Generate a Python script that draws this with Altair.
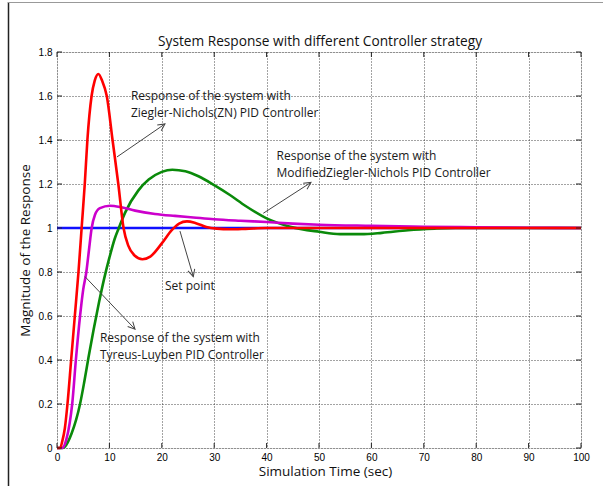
import math
import altair as alt
import pandas as pd

# ---------------- data ----------------
x_ticks = [0, 10, 20, 30, 40, 50, 60, 70, 80, 90, 100]
y_ticks = [0, 0.2, 0.4, 0.6, 0.8, 1.0, 1.2, 1.4, 1.6, 1.8]

t_set = [0, 100]
v_set = [1.0, 1.0]

t_zn = [0, 0.6, 1.0, 1.5, 2.0, 2.7, 3.4, 4.1, 4.7, 5.3, 5.8, 6.6, 7.2, 7.9, 8.6, 9.5,
        10.6, 11.7, 12.7, 13.6, 14.8, 16.3, 17.8, 20.0, 21.9, 23.3, 24.8, 26.5, 28.5,
        30.5, 33, 36, 40, 50, 100]
v_zn = [0, 0, 0.03, 0.09, 0.2, 0.4, 0.6, 0.8, 1.0, 1.2, 1.4, 1.6, 1.67, 1.70, 1.67, 1.6,
        1.4, 1.2, 1.0, 0.92, 0.875, 0.858, 0.87, 0.93, 0.99, 1.02, 1.03, 1.022, 1.005,
        0.997, 0.994, 0.996, 1.0, 1.0, 1.0]

t_tl = [0, 1.0, 1.8, 2.4, 2.9, 3.6, 4.4, 5.0, 5.6, 6.1, 6.6, 7.25, 8.2, 10.1, 12.3, 14.9,
        18.7, 22.5, 26, 30, 35, 40, 45, 50, 60, 70, 80, 90, 100]
v_tl = [0, 0, 0.04, 0.11, 0.2, 0.4, 0.6, 0.72, 0.8, 0.9, 0.997, 1.06, 1.09, 1.101, 1.094,
        1.079, 1.064, 1.055, 1.048, 1.04, 1.033, 1.027, 1.02, 1.015, 1.01, 1.006, 1.003,
        1.001, 1.0]

t_mzn = [0, 1.0, 1.5, 2.8, 4.4, 5.2, 6.0, 7.0, 8.0, 9.0, 10.0, 11.0, 11.8, 13.0, 15.5, 17.5,
         20, 22, 24.5, 27, 30, 33, 36, 40, 44.5, 50, 54, 58, 62, 67, 72, 76, 85, 100]
v_mzn = [0, 0, 0.006, 0.067, 0.2, 0.3, 0.41, 0.54, 0.66, 0.77, 0.865, 0.95, 1.0, 1.07, 1.17,
         1.22, 1.255, 1.265, 1.258, 1.235, 1.195, 1.15, 1.10, 1.044, 1.006, 0.983, 0.972,
         0.972, 0.978, 0.99, 0.997, 1.0, 1.0, 1.0]

series_names = ["Set point", "Modified ZN", "Tyreus-Luyben", "Ziegler-Nichols"]
series_colors = ["#1010ff", "#0a8a0a", "#cc00cc", "#ff0000"]

title_text = "System Response with different Controller strategy"

# annotation texts (data coordinates)
ann_text = ["Response of the system with", "Ziegler-Nichols(ZN) PID Controller",
            "Response of the system with", "ModifiedZiegler-Nichols PID Controller",
            "Set point",
            "Response of the system with", "Tyreus-Luyben PID Controller"]
ann_t = [14.1, 14.1, 41.9, 41.9, 20.6, 8.2, 8.2]
ann_v = [1.598, 1.522, 1.327, 1.251, 0.736, 0.499, 0.423]

# arrows: tail -> head (data coordinates)
arr_t0 = [11.45, 39.37, 23.47, 5.34]
arr_v0 = [1.323, 1.067, 0.986, 0.779]
arr_t1 = [20.61, 48.47, 26.01, 14.89]
arr_v1 = [1.473, 1.207, 0.779, 0.540]

# ---------------- layout ----------------
W, H = 524, 396
PAD = {"left": 57, "top": 52, "right": 22, "bottom": 38}
FONT = "Open Sans"

xs = alt.Scale(domain=[0, 100], nice=False, zero=False)
ys = alt.Scale(domain=[0, 1.8], nice=False, zero=False)

rows = []
for name, tt, vv in [("Set point", t_set, v_set), ("Modified ZN", t_mzn, v_mzn),
                     ("Tyreus-Luyben", t_tl, v_tl), ("Ziegler-Nichols", t_zn, v_zn)]:
    for i, (a, b) in enumerate(zip(tt, vv)):
        rows.append({"series": name, "t": a, "v": b, "i": i})
df = pd.DataFrame(rows)

xaxis = alt.Axis(values=x_ticks, grid=True, gridDash=[1, 2], gridColor="#333",
                 gridOpacity=0.9, domain=False, ticks=False, labelFlush=False,
                 labelFont="Liberation Sans", labelFontSize=10, labelColor="#000",
                 labelPadding=4, title="Simulation Time (sec)", titleFont=FONT,
                 titleFontSize=13.5, titleFontWeight="normal", titleColor="#111",
                 titlePadding=2, titleX=268)
yaxis = alt.Axis(values=y_ticks, grid=True, gridDash=[1, 2], gridColor="#333",
                 gridOpacity=0.9, domain=False, ticks=False, format="~g",
                 labelFlush=False,
                 labelFont="Liberation Sans", labelFontSize=10, labelColor="#000",
                 labelPadding=5, title="Magnitude of the Response", titleFont=FONT,
                 titleFontSize=13.5, titleFontWeight="normal", titleColor="#111",
                 titlePadding=6)

# axes + grid carrier layer (invisible)
axis_layer = alt.Chart(pd.DataFrame({"t": [0, 100], "v": [0, 1.8]})).mark_point(
    opacity=0, size=1).encode(
    x=alt.X("t:Q", scale=xs, axis=xaxis),
    y=alt.Y("v:Q", scale=ys, axis=yaxis))

def series_layer(name):
    return alt.Chart(df).transform_filter(alt.datum.series == name).mark_line(
        strokeWidth=2.6, interpolate="monotone").encode(
        x=alt.X("t:Q"), y=alt.Y("v:Q"),
        color=alt.Color("series:N",
                        scale=alt.Scale(domain=series_names, range=series_colors),
                        legend=None),
        order="i:Q")

layers = [series_layer(n) for n in series_names]

# inward tick marks on all four sides
tx = pd.DataFrame({"t": x_ticks})
ty = pd.DataFrame({"v": y_ticks})
tick_col = "#222"
tb = alt.Chart(tx).mark_rule(color=tick_col, strokeWidth=1).encode(
    x="t:Q", y=alt.value(H), y2=alt.value(H - 5))
tt_ = alt.Chart(tx).mark_rule(color=tick_col, strokeWidth=1).encode(
    x="t:Q", y=alt.value(0), y2=alt.value(5))
tl = alt.Chart(ty).mark_rule(color=tick_col, strokeWidth=1).encode(
    y="v:Q", x=alt.value(0), x2=alt.value(5))
tr = alt.Chart(ty).mark_rule(color=tick_col, strokeWidth=1).encode(
    y="v:Q", x=alt.value(W), x2=alt.value(W - 5))

# annotations
adf = pd.DataFrame({"text": ann_text, "t": ann_t, "v": ann_v})
texts = alt.Chart(adf).mark_text(align="left", baseline="middle", font=FONT,
                                 fontSize=12, color="#1a1a1a").encode(
    x="t:Q", y="v:Q", text="text:N")

sx, sy = W / 100.0, H / 1.8
ang = []
for a0, b0, a1, b1 in zip(arr_t0, arr_v0, arr_t1, arr_v1):
    dx = (a1 - a0) * sx
    dy = -(b1 - b0) * sy
    ang.append(math.degrees(math.atan2(dy, dx)) % 360)
ardf = pd.DataFrame({"t": arr_t0, "v": arr_v0, "t1": arr_t1, "v1": arr_v1, "ang": ang})
arrow_lines = alt.Chart(ardf).mark_rule(color="#444", strokeWidth=1).encode(
    x="t:Q", y="v:Q", x2="t1:Q", y2="v1:Q")
arrow_heads = alt.Chart(ardf).mark_point(
    shape="M -1 -0.5 L 0 0 L -1 0.5", filled=False, color="#444", strokeWidth=1,
    size=196, opacity=1).encode(
    x="t1:Q", y="v1:Q", angle=alt.Angle("ang:Q", scale=None))

# chart title as a text mark above the plot
one = pd.DataFrame({"a": [0]})
title_mark = alt.Chart(one).mark_text(font=FONT, fontSize=13.7, color="#111",
                                      align="center", baseline="middle").encode(
    x=alt.value(W / 2 + 1), y=alt.value(-10), text=alt.value(title_text))

# outer figure frame (page border of the original screenshot)
frame_left = alt.Chart(one).mark_rule(color="#222", strokeWidth=1.5).encode(
    x=alt.value(-48.5), y=alt.value(-50), y2=alt.value(436))
frame_top = alt.Chart(one).mark_rule(color="#999", strokeWidth=1).encode(
    y=alt.value(-49.5), x=alt.value(-49), x2=alt.value(546))
frame_bottom = alt.Chart(one).mark_rule(color="#bbb", strokeWidth=1).encode(
    y=alt.value(436.5), x=alt.value(-49), x2=alt.value(546))

chart = alt.layer(
    axis_layer, *layers, tb, tt_, tl, tr, arrow_lines, arrow_heads, texts,
    title_mark, frame_left, frame_top, frame_bottom
).properties(
    width=W, height=H,
    autosize=alt.AutoSizeParams(type="none"),
    padding=PAD,
).configure_view(stroke="#222", strokeWidth=1).configure(background="white")

chart.save("out.html", embed_options={"renderer": "svg", "actions": False})
